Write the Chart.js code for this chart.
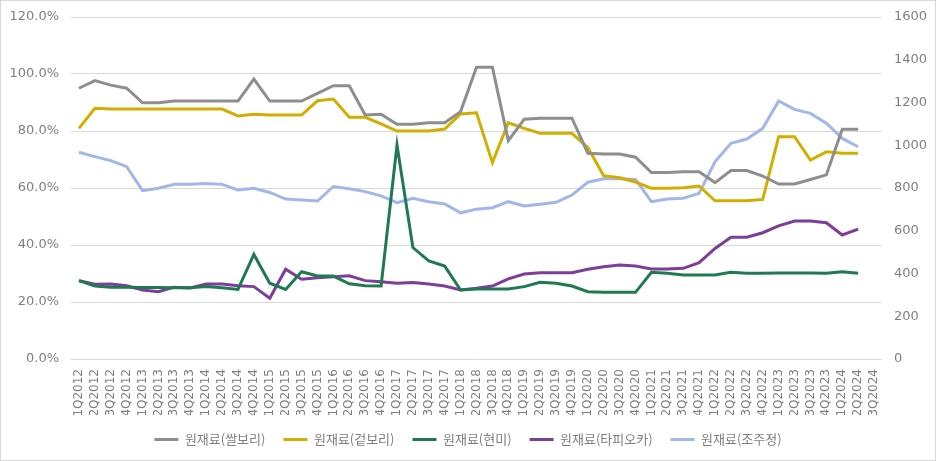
<!DOCTYPE html>
<html>
<head>
<meta charset="utf-8">
<script src="https://cdn.jsdelivr.net/npm/chart.js@4.4.1/dist/chart.umd.min.js"></script>
<style>
  html, body { margin: 0; padding: 0; background: #fff; }
  #wrap { width: 936px; height: 461px; box-sizing: border-box; border: 1px solid #d9d9d9; }
  canvas { display: block; }
</style>
</head>
<body>
<div id="wrap"><canvas id="chart" width="934" height="459"></canvas></div>
<script>
// quarters 1Q2012 .. 3Q2024
const quarters = [];
for (let y = 2012; y <= 2024; y++) {
  for (let q = 1; q <= 4; q++) {
    if (y === 2024 && q === 4) break;
    quarters.push(q + "Q" + y);
  }
}

// left axis, %
const ssalbori = [95.0, 97.7, 96.1, 95.0, 89.9, 89.9, 90.5, 90.5, 90.5, 90.5,
  90.5, 98.2, 90.5, 90.5, 90.5, 93.2, 95.9, 95.9, 85.6, 85.9,
  82.4, 82.4, 82.9, 82.9, 86.8, 102.4, 102.4, 76.6, 84.1, 84.5,
  84.5, 84.5, 72.2, 71.9, 71.9, 70.8, 65.4, 65.4, 65.7, 65.7,
  61.9, 66.1, 66.1, 64.2, 61.4, 61.4, 63.0, 64.6, 80.6, 80.6];
const geotbori = [80.9, 88.0, 87.7, 87.7, 87.7, 87.7, 87.7, 87.7, 87.7, 87.7,
  85.3, 85.9, 85.6, 85.6, 85.6, 90.6, 91.2, 84.8, 84.8, 82.5,
  80.0, 80.0, 80.0, 80.7, 86.0, 86.4, 68.9, 82.9, 80.9, 79.2,
  79.2, 79.2, 74.2, 64.3, 63.6, 62.1, 59.9, 59.9, 60.1, 60.7,
  55.5, 55.5, 55.5, 56.0, 78.0, 78.0, 69.8, 72.7, 72.2, 72.2];
const hyeonmi = [27.5, 25.6, 25.2, 25.2, 25.1, 25.1, 25.0, 25.0, 25.4, 25.0,
  24.4, 36.7, 26.6, 24.4, 30.6, 29.1, 29.1, 26.4, 25.7, 25.6,
  75.1, 39.1, 34.4, 32.6, 24.2, 24.6, 24.6, 24.6, 25.4, 26.9,
  26.6, 25.6, 23.6, 23.4, 23.4, 23.4, 30.4, 30.1, 29.5, 29.5,
  29.5, 30.4, 30.1, 30.1, 30.2, 30.2, 30.2, 30.1, 30.6, 30.1];
const tapioca = [27.5, 26.2, 26.3, 25.7, 24.2, 23.6, 25.2, 24.9, 26.3, 26.3,
  25.7, 25.4, 21.3, 31.5, 28.0, 28.5, 28.9, 29.2, 27.5, 27.1,
  26.6, 26.8, 26.3, 25.6, 24.2, 24.8, 25.6, 28.1, 29.8, 30.3,
  30.3, 30.3, 31.5, 32.4, 33.0, 32.6, 31.6, 31.6, 31.8, 33.8,
  38.8, 42.7, 42.7, 44.3, 46.7, 48.4, 48.4, 47.8, 43.5, 45.6];
// right axis
const jojujeong = [967, 947, 928, 900, 788, 799, 817, 817, 821, 817,
  791, 799, 779, 748, 744, 739, 807, 796, 783, 763,
  731, 752, 736, 725, 684, 701, 708, 736, 716, 724,
  733, 767, 827, 843, 843, 840, 736, 748, 752, 775,
  923, 1009, 1029, 1079, 1207, 1168, 1149, 1103, 1032, 993];

const seriesNames = ["원재료(쌀보리)", "원재료(겉보리)", "원재료(현미)", "원재료(타피오카)", "원재료(조주정)"];
const seriesColors = ["#8e8e8e", "#d2ae00", "#1f7a52", "#7d3d9a", "#a2b6e8"];
const seriesData = [ssalbori, geotbori, hyeonmi, tapioca, jojujeong];

const leftTicks = { min: 0, max: 120, step: 20 };
const rightTicks = { min: 0, max: 1600, step: 200 };

const FONT = "'Noto Sans CJK KR', 'DejaVu Sans', sans-serif";
const TEXT = "#7f7f7f";

const datasets = seriesData.map((d, i) => ({
  label: seriesNames[i],
  data: d,
  borderColor: seriesColors[i],
  backgroundColor: seriesColors[i],
  borderWidth: 3,
  pointRadius: 0,
  tension: 0,
  yAxisID: i === 4 ? "y1" : "y",
}));

new Chart(document.getElementById("chart").getContext("2d"), {
  type: "line",
  data: { labels: quarters, datasets },
  options: {
    responsive: false,
    animation: false,
    layout: { padding: { top: 16, bottom: 4, left: 0, right: 0 } },
    plugins: {
      legend: {
        position: "bottom",
        labels: {
          usePointStyle: true,
          pointStyle: "line",
          pointStyleWidth: 24,
          color: TEXT,
          font: { family: FONT, size: 13 },
          padding: 18,
        },
      },
      tooltip: { enabled: false },
    },
    scales: {
      x: {
        offset: true,
        grid: { display: false },
        border: { display: false },
        ticks: {
          autoSkip: false,
          minRotation: 90,
          maxRotation: 90,
          color: TEXT,
          font: { family: "'DejaVu Sans', sans-serif", size: 12 },
          padding: 2,
        },
        afterFit: (s) => { s.height = 56; },
      },
      y: {
        position: "left",
        min: leftTicks.min,
        max: leftTicks.max,
        grid: { color: "#d9d9d9", lineWidth: 1, drawTicks: false },
        border: { display: false },
        ticks: {
          stepSize: leftTicks.step,
          color: TEXT,
          font: { family: "'DejaVu Sans', sans-serif", size: 13 },
          padding: 12,
          callback: (v) => v.toFixed(1) + "%",
        },
        afterFit: (s) => { s.width = 70; s.paddingTop = 0; s.paddingBottom = 0; },
      },
      y1: {
        position: "right",
        min: rightTicks.min,
        max: rightTicks.max,
        grid: { drawOnChartArea: false, drawTicks: false },
        border: { display: false },
        ticks: {
          stepSize: rightTicks.step,
          color: TEXT,
          font: { family: "'DejaVu Sans', sans-serif", size: 13 },
          padding: 12,
          callback: (v) => String(v),
        },
        afterFit: (s) => { s.width = 53; s.paddingTop = 0; s.paddingBottom = 0; },
      },
    },
  },
});
</script>
</body>
</html>
